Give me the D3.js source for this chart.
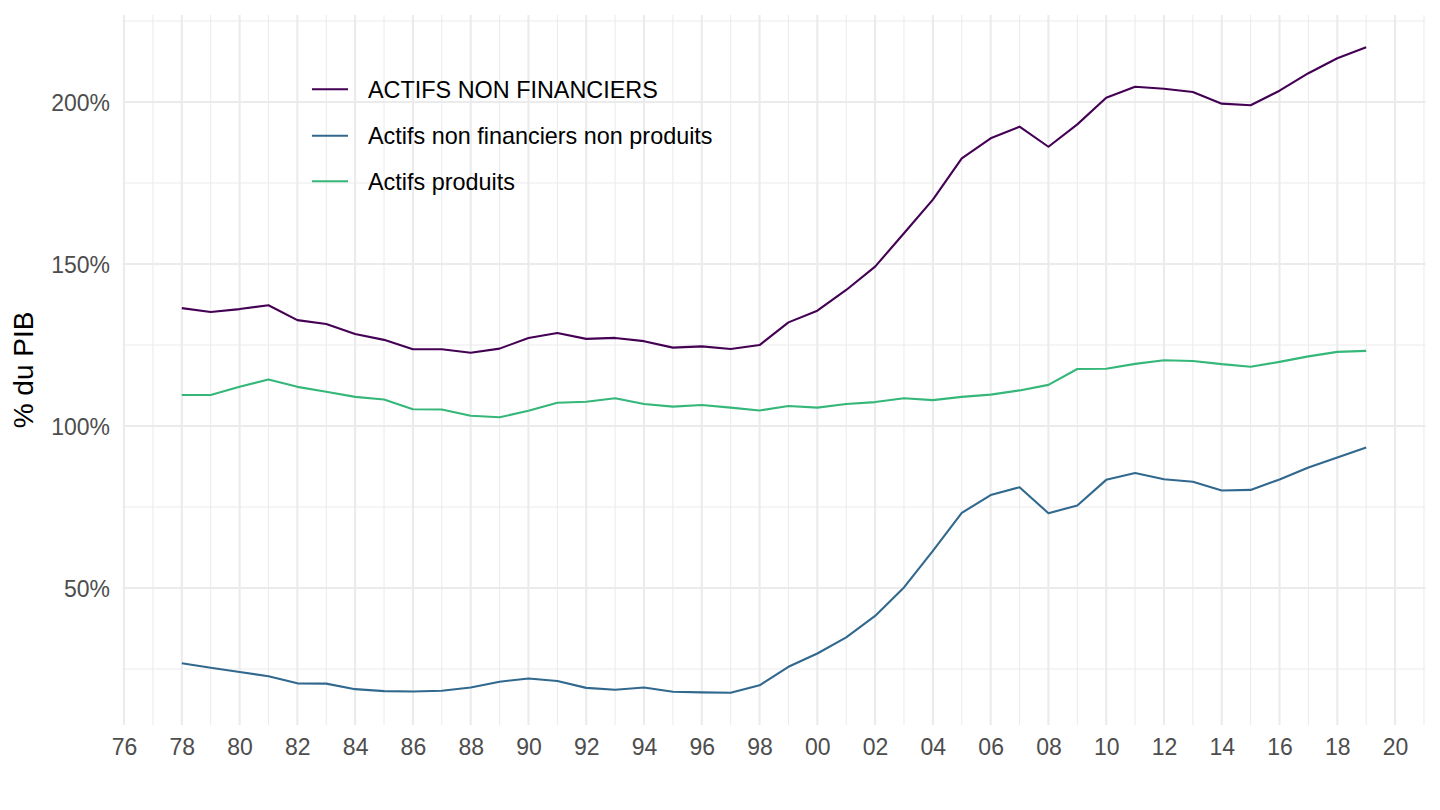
<!DOCTYPE html>
<html>
<head>
<meta charset="utf-8">
<script src="https://cdn.jsdelivr.net/npm/d3@7"></script>
<style>
  html, body { margin: 0; padding: 0; background: #ffffff; }
  svg { display: block; }
  text { font-family: "Liberation Sans", Arial, Helvetica, sans-serif; }
</style>
</head>
<body>
<svg id="chart" width="1440" height="810"></svg>
<script>
// ---- Data ----
const years = [1978,1979,1980,1981,1982,1983,1984,1985,1986,1987,1988,1989,1990,1991,1992,1993,1994,1995,1996,1997,1998,1999,2000,2001,2002,2003,2004,2005,2006,2007,2008,2009,2010,2011,2012,2013,2014,2015,2016,2017,2018,2019];

const seriesNames = ["ACTIFS NON FINANCIERS", "Actifs non financiers non produits", "Actifs produits"];
const seriesColors = ["#440154", "#31688E", "#35B779"];

const actifsNonFinanciers = [136.4,135.2,136.1,137.3,132.7,131.5,128.4,126.6,123.7,123.7,122.6,123.9,127.2,128.7,126.9,127.2,126.2,124.2,124.6,123.8,125.0,132.0,135.6,142.0,149.2,159.5,169.9,182.6,188.8,192.4,186.2,193.1,201.3,204.7,204.1,203.1,199.5,199.0,203.5,208.9,213.5,216.9];
const actifsNonProduits = [26.8,25.4,24.1,22.8,20.6,20.5,18.8,18.2,18.1,18.3,19.3,21.1,22.1,21.3,19.2,18.6,19.3,18.0,17.8,17.7,20.0,25.7,29.8,34.8,41.4,50.2,61.5,73.2,78.7,81.1,73.1,75.5,83.4,85.5,83.6,82.8,80.1,80.3,83.5,87.2,90.3,93.4];
const actifsProduits = [109.6,109.6,112.1,114.4,112.1,110.6,109.0,108.2,105.2,105.1,103.2,102.7,104.7,107.2,107.5,108.6,106.8,106.0,106.5,105.7,104.8,106.2,105.7,106.8,107.4,108.6,108.0,109.0,109.7,111.0,112.7,117.6,117.7,119.2,120.3,120.1,119.1,118.3,119.8,121.5,122.9,123.2];

const yMajorTicks = [50, 100, 150, 200];
const yMinorTicks = [25, 75, 125, 175, 225];
const xMajorTicks = d3.range(1976, 2021, 2);
const xMinorTicks = d3.range(1977, 2022, 2);
const yTitle = "% du PIB";

// ---- Layout ----
const svg = d3.select("#chart");
const panel = { left: 122.6, right: 1425.4, top: 15, bottom: 725 };

const x = d3.scaleLinear().domain([1975.95, 2021.05]).range([panel.left, panel.right]);
const y = d3.scaleLinear().domain([7.74, 226.86]).range([panel.bottom, panel.top]);

const gridColor = "#EBEBEB";

// Minor grid
const grid = svg.append("g");
grid.selectAll("line.ymin").data(yMinorTicks).enter().append("line")
  .attr("x1", panel.left).attr("x2", panel.right)
  .attr("y1", d => y(d)).attr("y2", d => y(d))
  .attr("stroke", gridColor).attr("stroke-width", 1.05);
grid.selectAll("line.xmin").data(xMinorTicks).enter().append("line")
  .attr("y1", panel.top).attr("y2", panel.bottom)
  .attr("x1", d => x(d)).attr("x2", d => x(d))
  .attr("stroke", gridColor).attr("stroke-width", 1.05);
// Major grid
grid.selectAll("line.ymaj").data(yMajorTicks).enter().append("line")
  .attr("x1", panel.left).attr("x2", panel.right)
  .attr("y1", d => y(d)).attr("y2", d => y(d))
  .attr("stroke", gridColor).attr("stroke-width", 2.1);
grid.selectAll("line.xmaj").data(xMajorTicks).enter().append("line")
  .attr("y1", panel.top).attr("y2", panel.bottom)
  .attr("x1", d => x(d)).attr("x2", d => x(d))
  .attr("stroke", gridColor).attr("stroke-width", 2.1);

// Axes (labels only, theme_minimal style)
const yAxis = d3.axisLeft(y).tickValues(yMajorTicks).tickFormat(d => d + "%").tickSize(0).tickPadding(0);
const gy = svg.append("g").attr("transform", `translate(110,0)`).call(yAxis);
gy.select(".domain").remove();
gy.selectAll("text").attr("fill", "#4D4D4D").style("font-size", "23px")
  .attr("x", 0).attr("dy", "0.36em").attr("text-anchor", "end");

const xAxis = d3.axisBottom(x).tickValues(xMajorTicks).tickFormat(d => String(d).slice(2)).tickSize(0).tickPadding(0);
const gx = svg.append("g").attr("transform", `translate(0,738)`).call(xAxis);
gx.select(".domain").remove();
gx.selectAll("text").attr("fill", "#4D4D4D").style("font-size", "23px")
  .attr("y", 0).attr("dy", "0.72em");

// Y title
svg.append("text")
  .attr("transform", `translate(33,${(panel.top + panel.bottom) / 2}) rotate(-90)`)
  .attr("text-anchor", "middle")
  .attr("fill", "#000000")
  .style("font-size", "28px")
  .text(yTitle);

// Lines
const allSeries = [actifsNonFinanciers, actifsNonProduits, actifsProduits];
const line = d3.line().x((d, i) => x(years[i])).y(d => y(d));
svg.append("g").selectAll("path").data(allSeries).enter().append("path")
  .attr("d", d => line(d))
  .attr("fill", "none")
  .attr("stroke", (d, i) => seriesColors[i])
  .attr("stroke-width", 2.1)
  .attr("stroke-linejoin", "round")
  .attr("stroke-linecap", "butt");

// Legend
const legendY = [89.3, 135.7, 181.3];
const lg = svg.append("g");
seriesNames.forEach((name, i) => {
  lg.append("line")
    .attr("x1", 312).attr("x2", 348)
    .attr("y1", legendY[i]).attr("y2", legendY[i])
    .attr("stroke", seriesColors[i]).attr("stroke-width", 2.1);
  lg.append("text")
    .attr("x", 368).attr("y", legendY[i] + 8.2)
    .attr("fill", "#000000")
    .style("font-size", "23.4px")
    .text(name);
});
</script>
</body>
</html>
